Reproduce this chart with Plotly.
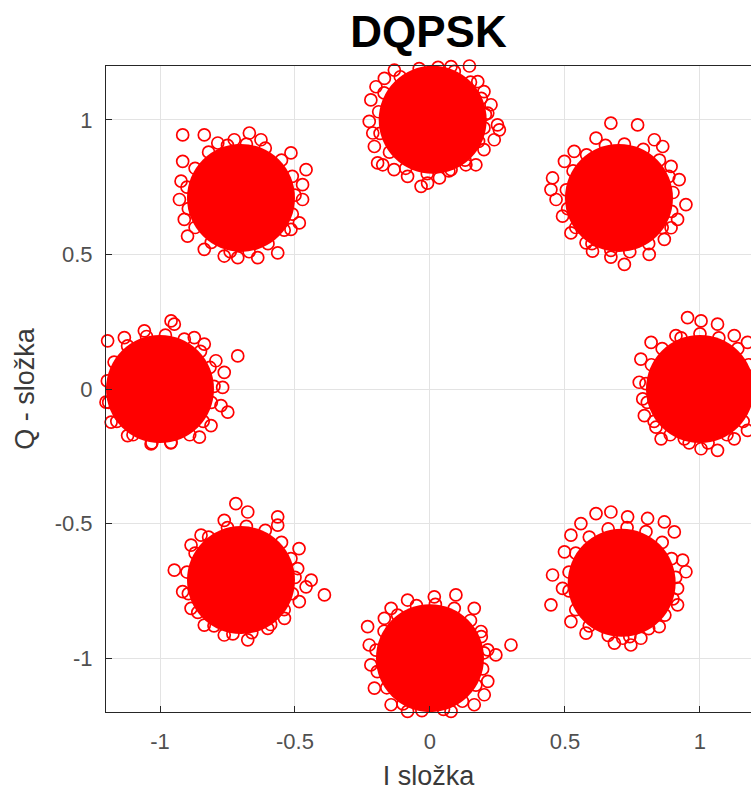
import plotly.graph_objects as go

# Cluster (symbol) centres of the DQPSK constellation (dense cores)
center_i = [0.01, 0.70, 1.00, 0.71, 0.00, -0.70, -1.00, -0.70]
center_q = [1.00, 0.71, 0.00, -0.72, -1.00, -0.71, 0.00, 0.71]

# Outlying received samples (I, Q)
pts_i = [
    # top
    -0.200, -0.219, -0.225, -0.212, -0.206, -0.194, -0.175, -0.133, -0.083, -0.033, -0.009, 0.035, 0.078,
    0.133, 0.170, 0.200, 0.238, 0.257, 0.250, 0.214, 0.226, 0.200, 0.177, 0.146, 0.078, 0.016, -0.046,
    -0.096, -0.132, -0.169,
    # upper right
    0.670, 0.769, 0.615, 0.831, 0.862, 0.534, 0.498, 0.893, 0.454, 0.923, 0.448, 0.467, 0.948, 0.917,
    0.491, 0.522, 0.578, 0.602, 0.720, 0.812, 0.868, 0.893, 0.670,
    # right
    0.954, 1.004, 1.065, 0.911, 0.819, 0.781, 0.775, 0.788, 0.794, 0.837, 0.856, 0.942, 1.004, 1.065,
    1.127, 1.176, 1.176, 1.127,
    # lower right
    0.615, 0.670, 0.732, 0.806, 0.868, 0.905, 0.559, 0.522, 0.498, 0.454, 0.448, 0.491, 0.522, 0.578,
    0.683, 0.744, 0.781, 0.849, 0.917, 0.948, 0.936, 0.917, 0.714,
    # bottom
    -0.231, -0.144, -0.083, 0.016, 0.096, 0.164, 0.189, 0.214, 0.244, 0.300, 0.214, 0.201, 0.164, 0.078,
    -0.009, -0.083, -0.144, -0.206, -0.219, -0.225, -0.169,
    # lower left
    -0.719, -0.675, -0.564, -0.564, -0.762, -0.848, -0.885, -0.947, -0.916, -0.885, -0.836, -0.762,
    -0.675, -0.601, -0.539, -0.484, -0.440, -0.459, -0.391, -0.485, -0.490,
    # left
    -0.959, -0.947, -1.194, -1.132, -1.058, -0.873, -0.836, -0.712, -0.793, -0.762, -0.768, -0.774,
    -0.749, -0.811, -0.854, -0.959, -1.033, -1.120, -1.181, -1.206, -1.206, -1.200,
    # upper left
    -0.916, -0.836, -0.916, -0.922, -0.928, -0.910, -0.898, -0.836, -0.762, -0.712, -0.638, -0.564,
    -0.515, -0.484, -0.472, -0.472, -0.459, -0.515, -0.626, -0.669, -0.725, -0.786,
]
pts_q = [
    # top
    1.123, 1.074, 0.994, 0.951, 0.901, 0.840, 0.833, 0.815, 0.790, 0.753, 0.765, 0.784, 0.815,
    0.833, 0.833, 0.889, 0.926, 0.963, 0.981, 1.025, 1.056, 1.105, 1.142, 1.200, 1.198, 1.216, 1.216,
    1.210, 1.185, 1.154,
    # upper right
    0.988, 0.981, 0.932, 0.926, 0.901, 0.883, 0.846, 0.827, 0.784, 0.778, 0.741, 0.704, 0.685, 0.630,
    0.642, 0.580, 0.543, 0.512, 0.463, 0.500, 0.556, 0.599, 0.490,
    # right
    0.265, 0.253, 0.241, 0.198, 0.173, 0.111, 0.025, -0.037, -0.099, -0.142, -0.185, -0.185, -0.222,
    -0.228, -0.185, -0.154, 0.173, 0.198,
    # lower right
    -0.463, -0.457, -0.475, -0.481, -0.494, -0.531, -0.500, -0.543, -0.605, -0.691, -0.802, -0.741,
    -0.864, -0.907, -0.944, -0.951, -0.926, -0.883, -0.802, -0.679, -0.636, -0.741, -0.926,
    # bottom
    -0.883, -0.815, -0.784, -0.772, -0.765, -0.815, -0.901, -0.969, -0.988, -0.951, -1.086, -1.136,
    -1.173, -1.198, -1.204, -1.198, -1.173, -1.111, -1.025, -0.951, -0.852,
    # lower left
    -0.426, -0.457, -0.475, -0.506, -0.488, -0.543, -0.580, -0.673, -0.753, -0.815, -0.877, -0.914,
    -0.932, -0.889, -0.852, -0.790, -0.710, -0.735, -0.765, -0.593, -0.667,
    # left
    0.253, 0.241, 0.179, 0.191, 0.216, 0.191, 0.167, 0.123, 0.105, 0.062, 0.006, -0.062, -0.086,
    -0.136, -0.179, -0.198, -0.204, -0.173, -0.123, 0.025, 0.086, -0.049,
    # upper left
    0.944, 0.944, 0.846, 0.772, 0.704, 0.630, 0.568, 0.519, 0.494, 0.488, 0.488, 0.506, 0.593, 0.617,
    0.704, 0.759, 0.815, 0.877, 0.926, 0.951, 0.926, 0.914,
]

# Samples forming the crowded rim of each cluster (I, Q)
rim_i = [
    0.205, 0.19, 0.15, 0.09, 0.03, -0.04, -0.11, -0.17, -0.19, -0.185, -0.15, -0.09, -0.01, 0.07, 0.13, 0.18, 0.20,
    0.90, 0.885, 0.85, 0.79, 0.72, 0.65, 0.58, 0.53, 0.505, 0.51, 0.54, 0.60, 0.67, 0.74, 0.81, 0.86, 0.895,
    1.20, 1.18, 1.14, 1.07, 1.00, 0.93, 0.86, 0.82, 0.80, 0.805, 0.83, 0.89, 0.96, 1.03, 1.10, 1.16, 1.19,
    0.91, 0.895, 0.86, 0.80, 0.73, 0.66, 0.59, 0.54, 0.515, 0.515, 0.54, 0.59, 0.66, 0.74, 0.81, 0.87, 0.90,
    0.20, 0.19, 0.15, 0.09, 0.02, -0.05, -0.12, -0.17, -0.20, -0.195, -0.16, -0.10, -0.03, 0.05, 0.12, 0.17, 0.195,
    -0.50, -0.515, -0.55, -0.61, -0.68, -0.75, -0.82, -0.87, -0.90, -0.895, -0.86, -0.80, -0.73, -0.66, -0.59, -0.54, -0.51,
    -0.80, -0.815, -0.85, -0.91, -0.98, -1.05, -1.12, -1.17, -1.195, -1.19, -1.16, -1.10, -1.03, -0.96, -0.89, -0.84, -0.81,
    -0.50, -0.51, -0.55, -0.61, -0.68, -0.75, -0.82, -0.87, -0.90, -0.895, -0.87, -0.81, -0.74, -0.67, -0.60, -0.54, -0.51,
]
rim_q = [
    1.02, 1.08, 1.14, 1.18, 1.195, 1.19, 1.16, 1.10, 1.03, 0.95, 0.88, 0.82, 0.80, 0.81, 0.85, 0.92, 0.97,
    0.73, 0.79, 0.85, 0.89, 0.91, 0.905, 0.87, 0.81, 0.74, 0.67, 0.60, 0.54, 0.515, 0.51, 0.54, 0.60, 0.66,
    0.02, 0.09, 0.15, 0.19, 0.205, 0.19, 0.15, 0.09, 0.02, -0.05, -0.12, -0.17, -0.20, -0.20, -0.17, -0.12, -0.06,
    -0.70, -0.63, -0.57, -0.53, -0.515, -0.52, -0.55, -0.61, -0.68, -0.75, -0.82, -0.88, -0.915, -0.92, -0.89, -0.84, -0.78,
    -0.98, -0.92, -0.86, -0.815, -0.80, -0.805, -0.84, -0.90, -0.97, -1.05, -1.11, -1.17, -1.195, -1.19, -1.16, -1.10, -1.04,
    -0.70, -0.63, -0.57, -0.525, -0.51, -0.515, -0.55, -0.61, -0.68, -0.76, -0.83, -0.88, -0.91, -0.905, -0.875, -0.82, -0.76,
    0.01, 0.08, 0.14, 0.185, 0.20, 0.195, 0.16, 0.10, 0.03, -0.05, -0.12, -0.17, -0.20, -0.20, -0.17, -0.12, -0.05,
    0.72, 0.79, 0.85, 0.895, 0.91, 0.905, 0.88, 0.82, 0.75, 0.67, 0.60, 0.545, 0.51, 0.51, 0.54, 0.59, 0.65,
]

x_ticks = [-1, -0.5, 0, 0.5, 1]
y_ticks = [-1, -0.5, 0, 0.5, 1]
x_tick_text = ["-1", "-0.5", "0", "0.5", "1"]
y_tick_text = ["-1", "-0.5", "0", "0.5", "1"]

RED = "#ff0000"
fig = go.Figure()

# dense cores of the clusters
fig.add_trace(go.Scatter(
    x=center_i, y=center_q, mode="markers", cliponaxis=False, hoverinfo="skip",
    marker=dict(symbol="circle", size=108, color=RED, line=dict(width=0)),
    showlegend=False,
))
ring = dict(symbol="circle-open", size=12, color=RED, line=dict(width=1.7, color=RED))
# crowded rim samples
fig.add_trace(go.Scatter(x=rim_i, y=rim_q, mode="markers", cliponaxis=False,
                         marker=ring, showlegend=False))
# individual noisy samples around the cores
fig.add_trace(go.Scatter(x=pts_i, y=pts_q, mode="markers", cliponaxis=False,
                         marker=ring, showlegend=False))

TICK_FONT = dict(family="Liberation Sans, Arial, sans-serif", size=22, color="#505050")
LABEL_FONT = dict(family="Liberation Sans, Arial, sans-serif", size=27, color="#3a3a3a")

axis_common = dict(
    showgrid=True, gridcolor="#e3e3e3", gridwidth=1,
    zeroline=False, showline=True, linecolor="#262626", linewidth=1, mirror=True,
    ticks="inside", ticklen=6, tickwidth=1, tickcolor="#262626",
    tickfont=TICK_FONT,
)

fig.update_layout(
    width=751, height=791,
    margin=dict(l=106, r=0, t=66, b=79),
    paper_bgcolor="white", plot_bgcolor="white",
    title=dict(text="<b>DQPSK</b>", x=0.5, xanchor="center", xref="paper",
               y=1, yref="container", yanchor="top", pad=dict(t=16),
               font=dict(family="Liberation Sans, Arial, sans-serif", size=44, color="black")),
    xaxis=dict(range=[-1.2, 1.189], tickvals=x_ticks, ticktext=x_tick_text, ticklabelstandoff=10,
               title=dict(text="I složka", font=LABEL_FONT, standoff=12), **axis_common),
    yaxis=dict(range=[-1.2, 1.2], tickvals=y_ticks, ticktext=y_tick_text, ticklabelstandoff=8,
               title=dict(text="Q - složka", font=LABEL_FONT, standoff=12), **axis_common),
)

fig.write_html("out.html")
